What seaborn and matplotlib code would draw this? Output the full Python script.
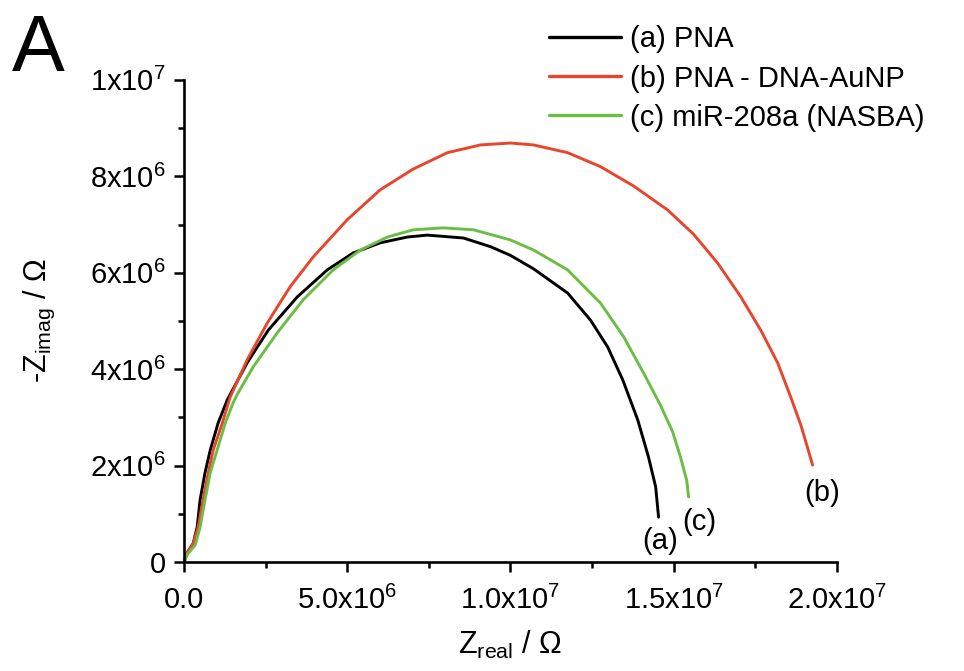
import pandas as pd
import matplotlib
matplotlib.use("Agg")
import matplotlib.pyplot as plt
import seaborn as sns
from matplotlib.ticker import MultipleLocator, FixedLocator

# ---------------------------------------------------------------------------
# Dati (Nyquist)
# ---------------------------------------------------------------------------
a_zre = [0, 0.03e6, 0.10e6, 0.28e6, 0.40e6, 0.49e6, 0.64e6, 0.80e6, 1.04e6,
         1.32e6, 1.93e6, 2.58e6, 3.47e6, 4.39e6, 5.18e6, 6.01e6, 6.84e6,
         7.45e6, 8.56e6, 9.39e6, 1.00e7, 1.071e7, 1.175e7, 1.245e7, 1.298e7,
         1.344e7, 1.390e7, 1.423e7, 1.445e7, 1.454e7]
a_zim = [0, 0.06e6, 0.20e6, 0.39e6, 0.73e6, 1.29e6, 1.85e6, 2.32e6, 2.88e6,
         3.36e6, 4.13e6, 4.81e6, 5.50e6, 6.06e6, 6.41e6, 6.62e6, 6.74e6,
         6.78e6, 6.72e6, 6.54e6, 6.36e6, 6.08e6, 5.58e6, 5.02e6, 4.46e6,
         3.78e6, 2.95e6, 2.18e6, 1.56e6, 0.93e6]

b_zre = [0, 0.03e6, 0.10e6, 0.28e6, 0.43e6, 0.58e6, 0.74e6, 0.89e6, 1.17e6,
         1.41e6, 1.93e6, 2.55e6, 3.25e6, 3.96e6, 5.00e6, 6.01e6, 7.02e6,
         8.07e6, 9.08e6, 1.00e7, 1.071e7, 1.175e7, 1.276e7, 1.377e7, 1.482e7,
         1.561e7, 1.635e7, 1.706e7, 1.767e7, 1.819e7, 1.859e7, 1.890e7,
         1.908e7, 1.926e7]
b_zim = [0, 0.06e6, 0.20e6, 0.39e6, 0.73e6, 1.29e6, 1.85e6, 2.32e6, 2.88e6,
         3.42e6, 4.19e6, 4.96e6, 5.71e6, 6.33e6, 7.10e6, 7.72e6, 8.15e6,
         8.49e6, 8.65e6, 8.69e6, 8.65e6, 8.49e6, 8.20e6, 7.80e6, 7.30e6,
         6.80e6, 6.20e6, 5.50e6, 4.81e6, 4.13e6, 3.42e6, 2.84e6,
         2.43e6, 2.01e6]

c_zre = [0, 0.03e6, 0.10e6, 0.34e6, 0.49e6, 0.64e6, 0.80e6, 1.01e6, 1.26e6,
         1.50e6, 1.63e6, 2.12e6, 2.85e6, 3.65e6, 4.57e6, 5.40e6, 6.23e6,
         7.02e6, 7.94e6, 8.87e6, 1.00e7, 1.071e7, 1.175e7, 1.276e7, 1.347e7,
         1.408e7, 1.460e7, 1.497e7, 1.521e7, 1.540e7, 1.546e7]
c_zim = [0, 0.05e6, 0.16e6, 0.35e6, 0.73e6, 1.29e6, 1.85e6, 2.32e6, 2.88e6,
         3.30e6, 3.48e6, 4.05e6, 4.75e6, 5.44e6, 6.06e6, 6.47e6, 6.74e6,
         6.89e6, 6.93e6, 6.89e6, 6.68e6, 6.47e6, 6.06e6, 5.37e6, 4.67e6,
         3.92e6, 3.25e6, 2.70e6, 2.18e6, 1.70e6, 1.35e6]

series = ["(a) PNA", "(b) PNA - DNA-AuNP", "(c) miR-208a (NASBA)"]
colori = {"(a) PNA": "#000000",
          "(b) PNA - DNA-AuNP": "#E8452C",
          "(c) miR-208a (NASBA)": "#6CBD45"}

xticks = [0, 5e6, 1e7, 1.5e7, 2e7]
xtick_lab = ["0.0", "5.0x10$^{6}$", "1.0x10$^{7}$", "1.5x10$^{7}$", "2.0x10$^{7}$"]
yticks = [0, 2e6, 4e6, 6e6, 8e6, 1e7]
ytick_lab = ["0", "2x10$^{6}$", "4x10$^{6}$", "6x10$^{6}$", "8x10$^{6}$", "1x10$^{7}$"]

# etichette a fine curva: testo, x, y
tag_txt = ["(a)", "(c)", "(b)"]
tag_x = [1.46e7, 1.58e7, 1.954e7]
tag_y = [0.44e6, 0.83e6, 1.43e6]

# ---------------------------------------------------------------------------
# DataFrame lungo
# ---------------------------------------------------------------------------
df = pd.concat([
    pd.DataFrame({"zre": a_zre, "zim": a_zim, "serie": series[0]}),
    pd.DataFrame({"zre": b_zre, "zim": b_zim, "serie": series[1]}),
    pd.DataFrame({"zre": c_zre, "zim": c_zim, "serie": series[2]}),
], ignore_index=True)

# ---------------------------------------------------------------------------
# Grafico
# ---------------------------------------------------------------------------
sns.set_style("ticks")
plt.rcParams["font.family"] = ["Liberation Sans", "DejaVu Sans"]
plt.rcParams["mathtext.fontset"] = "custom"
plt.rcParams["mathtext.rm"] = "Liberation Sans"
plt.rcParams["mathtext.it"] = "Liberation Sans"
plt.rcParams["mathtext.default"] = "regular"
for k in ["text.color", "axes.labelcolor", "xtick.color", "ytick.color", "axes.edgecolor"]:
    plt.rcParams[k] = "black"

fig = plt.figure(figsize=(9.64, 6.71), dpi=100)
ax = fig.add_axes([0.191, 0.1624, 0.677, 0.7186])

sns.lineplot(data=df, x="zre", y="zim", hue="serie", units="serie",
             estimator=None, sort=False, palette=colori, hue_order=series,
             linewidth=2.1, ax=ax, legend=False)
for ln in ax.lines:
    ln.set_clip_on(False)
    ln.set_solid_joinstyle("round")

ax.set_xlim(0, 2e7)
ax.set_ylim(0, 1e7)
ax.xaxis.set_major_locator(FixedLocator(xticks))
ax.yaxis.set_major_locator(FixedLocator(yticks))
ax.xaxis.set_minor_locator(MultipleLocator(2.5e6))
ax.yaxis.set_minor_locator(MultipleLocator(1e6))
ax.set_xticklabels(xtick_lab, fontsize=21)
ax.set_yticklabels(ytick_lab, fontsize=21)
ax.tick_params(axis="x", which="major", pad=10)
ax.tick_params(axis="y", which="major", pad=6)
ax.tick_params(which="major", direction="out", length=7, width=1.8)
ax.tick_params(which="minor", direction="out", length=4, width=1.8)
for s in ["left", "bottom"]:
    ax.spines[s].set_linewidth(1.9)
sns.despine(ax=ax)

ax.set_xlabel("Z$_{real}$ / Ω", fontsize=22, labelpad=10)
ax.set_ylabel("-Z$_{imag}$ / Ω", fontsize=22, labelpad=24)

for t, x, y in zip(tag_txt, tag_x, tag_y):
    ax.text(x, y, t, fontsize=21, ha="center", va="center")

# legenda
handles = [plt.Line2D([], [], color=colori[s], linewidth=2.4) for s in series]
fig.legend(handles, series, loc="upper left", bbox_to_anchor=(0.569, 0.962),
           frameon=False, fontsize=21, handlelength=2.5, handletextpad=0.3,
           labelspacing=0.38, borderpad=0, borderaxespad=0)

fig.text(0.012, 0.98, "A", fontsize=57, ha="left", va="top")

fig.savefig("out.png", dpi=100)
